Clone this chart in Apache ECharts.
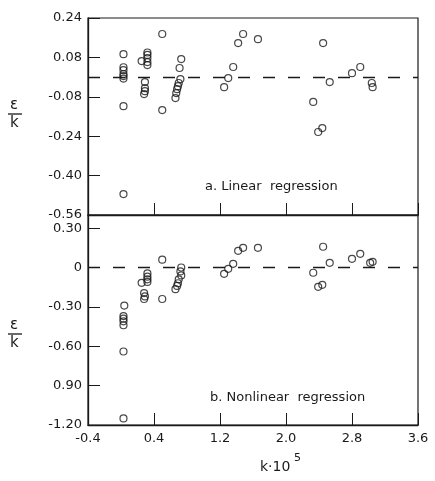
<!DOCTYPE html>
<html>
<head>
<meta charset="utf-8">
<script src="https://cdn.jsdelivr.net/npm/echarts@6/dist/echarts.min.js"></script>
<style>
html, body { margin: 0; padding: 0; background: #fff; }
#main { width: 435px; height: 481px; }
</style>
</head>
<body>
<div id="main"></div>
<script>
// residuals eps/k against k*10^5
var linearPts = [
  [0.03, 0.093], [0.03, 0.040], [0.03, 0.028], [0.03, 0.012], [0.03, 0.004], [0.03, -0.006], [0.03, -0.118], [0.03, -0.475],
  [0.25, 0.065], [0.32, 0.100], [0.32, 0.090], [0.32, 0.077], [0.32, 0.061], [0.32, 0.049],
  [0.29, -0.020], [0.29, -0.045], [0.29, -0.057], [0.28, -0.069],
  [0.50, 0.175], [0.50, -0.134],
  [0.73, 0.073], [0.71, 0.037], [0.72, -0.008], [0.70, -0.024], [0.69, -0.037], [0.68, -0.049], [0.67, -0.065], [0.66, -0.085],
  [1.25, -0.041], [1.30, -0.004], [1.36, 0.041], [1.42, 0.138], [1.48, 0.175], [1.66, 0.154],
  [2.33, -0.101], [2.39, -0.223], [2.44, -0.207], [2.45, 0.138], [2.53, -0.020],
  [2.80, 0.016], [2.90, 0.041], [3.04, -0.024], [3.05, -0.041]
];
var nonlinearPts = [
  [0.04, -0.29], [0.03, -0.37], [0.03, -0.39], [0.03, -0.41], [0.03, -0.44], [0.03, -0.64], [0.03, -1.15],
  [0.25, -0.117], [0.32, -0.045], [0.32, -0.070], [0.32, -0.090], [0.32, -0.110],
  [0.28, -0.195], [0.29, -0.220], [0.28, -0.240],
  [0.50, 0.060], [0.50, -0.240],
  [0.73, 0.000], [0.72, -0.030], [0.73, -0.060], [0.70, -0.090], [0.69, -0.120], [0.68, -0.140], [0.66, -0.165],
  [1.25, -0.048], [1.30, -0.010], [1.36, 0.028], [1.42, 0.127], [1.48, 0.150], [1.66, 0.150],
  [2.33, -0.040], [2.39, -0.147], [2.44, -0.132], [2.45, 0.158], [2.53, 0.036],
  [2.80, 0.066], [2.90, 0.104], [3.02, 0.036], [3.05, 0.043]
];
var xTicks = [-0.4, 0.4, 1.2, 2.0, 2.8, 3.6];
var xLabels = ['-0.4', '0.4', '1.2', '2.0', '2.8', '3.6'];
var yTicksA = [-0.56, -0.40, -0.24, -0.08, 0.08, 0.24];
var yLabelsA = ['-0.56', '-0.40', '-0.24', '-0.08', '0.08', '0.24'];
var yTicksB = [-1.2, -0.9, -0.6, -0.3, 0, 0.3];
var yLabelsB = ['-1.20', '0.90', '-0.60', '-0.30', '0', '0.30'];

var ink = '#1a1a1a';
var font = 'DejaVu Sans';

function pickLabel(ticks, labels) {
  return function (v) {
    for (var i = 0; i < ticks.length; i++) {
      if (Math.abs(v - ticks[i]) < 1e-6) return labels[i];
    }
    return '';
  };
}

function xAx(idx, withLabels) {
  return {
    type: 'value', gridIndex: idx,
    min: xTicks[0], max: xTicks[xTicks.length - 1], interval: 0.8,
    splitLine: { show: false },
    axisLine: { show: true, onZero: false, lineStyle: { color: ink, width: 1.3 } },
    axisTick: { show: true, inside: true, length: 12, lineStyle: { color: ink, width: 1 } },
    axisLabel: {
      show: withLabels, margin: 7, color: ink, fontFamily: font, fontSize: 13,
      formatter: pickLabel(xTicks, xLabels)
    }
  };
}

function yAx(idx, min, max, step, ticks, labels) {
  return {
    type: 'value', gridIndex: idx,
    min: min, max: max, interval: step,
    splitLine: { show: false },
    axisLine: { show: true, onZero: false, lineStyle: { color: ink, width: 1.3 } },
    axisTick: { show: true, inside: true, length: 12, lineStyle: { color: ink, width: 1 } },
    axisLabel: {
      margin: 6, color: ink, fontFamily: font, fontSize: 13, showMaxLabel: ticks === yTicksA,
      formatter: pickLabel(ticks, labels)
    }
  };
}

function dots(idx, pts) {
  return {
    type: 'scatter', xAxisIndex: idx, yAxisIndex: idx,
    data: pts, symbol: 'circle', symbolSize: 7,
    itemStyle: { color: 'rgba(0,0,0,0)', borderColor: ink, borderWidth: 1.2 },
    markLine: {
      silent: true, symbol: 'none', animation: false,
      label: { show: false },
      lineStyle: { color: ink, width: 1.4, type: [12, 13] },
      data: [{ yAxis: 0 }]
    }
  };
}

var chart = echarts.init(document.getElementById('main'));
chart.setOption({
  animation: false,
  backgroundColor: '#fff',
  grid: [
    { left: 88, right: 17, top: 18, height: 197, show: true, borderColor: ink, borderWidth: 1.2 },
    { left: 88, right: 17, top: 215, height: 210, show: true, borderColor: ink, borderWidth: 1.2 }
  ],
  xAxis: [xAx(0, false), xAx(1, true)],
  yAxis: [
    yAx(0, -0.56, 0.24, 0.16, yTicksA, yLabelsA),
    yAx(1, -1.2, 0.4, 0.3, yTicksB, yLabelsB)
  ],
  series: [dots(0, linearPts), dots(1, nonlinearPts)],
  graphic: [
    { type: 'text', left: 205, top: 180, style: { text: 'a. Linear  regression', fill: ink, font: '13px "DejaVu Sans"' } },
    { type: 'text', left: 210, top: 391, style: { text: 'b. Nonlinear  regression', fill: ink, font: '13px "DejaVu Sans"' } },
    { type: 'text', left: 260, top: 460, style: { text: 'k·10', fill: ink, font: '14px "DejaVu Sans"' } },
    { type: 'text', left: 294, top: 453, style: { text: '5', fill: ink, font: '11px "DejaVu Sans"' } },
    { type: 'text', left: 10, top: 98, style: { text: 'ε', fill: ink, font: '15px "DejaVu Sans"' } },
    { type: 'line', shape: { x1: 8, y1: 114, x2: 22, y2: 114 }, style: { stroke: ink, lineWidth: 1.3 } },
    { type: 'text', left: 10, top: 116, style: { text: 'k', fill: ink, font: '15px "DejaVu Sans"' } },
    { type: 'text', left: 10, top: 318, style: { text: 'ε', fill: ink, font: '15px "DejaVu Sans"' } },
    { type: 'line', shape: { x1: 8, y1: 334, x2: 22, y2: 334 }, style: { stroke: ink, lineWidth: 1.3 } },
    { type: 'text', left: 10, top: 336, style: { text: 'k', fill: ink, font: '15px "DejaVu Sans"' } }
  ]
});
</script>
</body>
</html>
